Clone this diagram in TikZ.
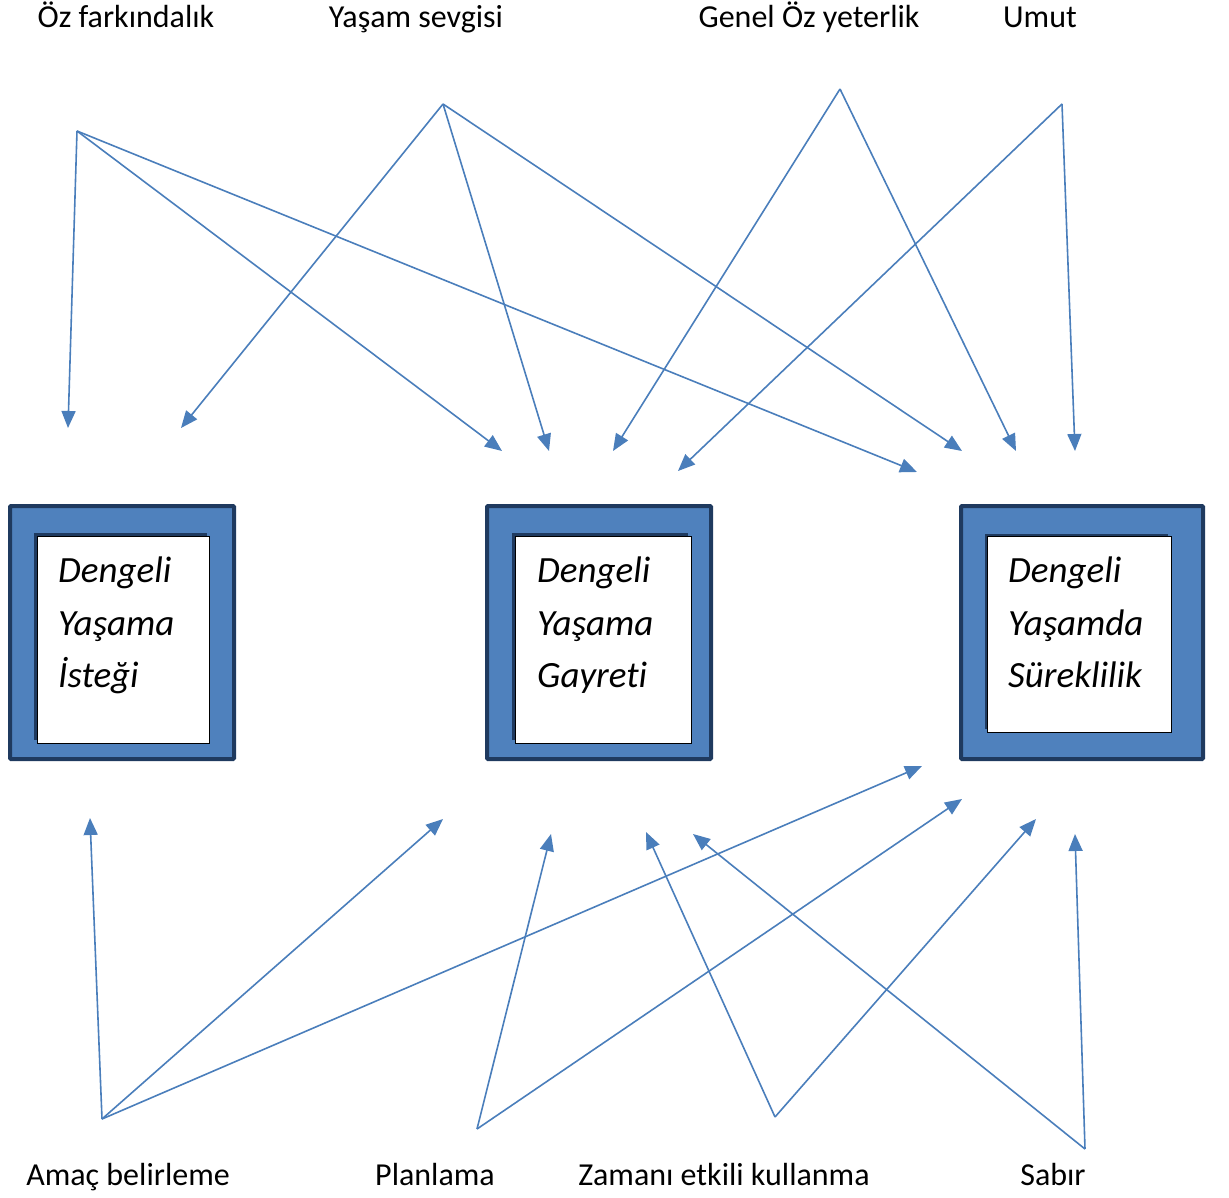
\documentclass[tikz,border=0pt]{standalone}
\usepackage{fontspec}
\setmainfont{Carlito}[Ligatures=NoCommon]
\usetikzlibrary{arrows.meta,positioning}
\definecolor{linkblue}{HTML}{4A7EBB}
\definecolor{boxblue}{HTML}{4F81BD}
\definecolor{boxnavy}{HTML}{1F3A5F}
\newcommand{\lblsize}{\fontsize{32}{38}\selectfont}
\newcommand{\boxsize}{\fontsize{37}{52.5}\selectfont}

\begin{document}
\begin{tikzpicture}[x=1pt,y=-1pt,
    lbl/.style={font=\lblsize, inner sep=0pt, anchor=base},
    link/.style={draw=linkblue, line width=1.6pt, -{Triangle[length=17pt,width=14pt]}},
    outerbox/.style={draw=boxnavy, fill=boxblue, line width=4pt, rounded corners=1pt},
    innerbox/.style={draw=black, fill=white, line width=0.8pt},
    boxtext/.style={font=\boxsize\itshape, inner sep=0pt, anchor=north west, align=left}]
    %\draw[help lines] (0,0) grid[step=100] (1229,1198);
    \useasboundingbox (0,0) rectangle (1229,1198);

    % labels
    \node[lbl] (selfaware) at (126,28) {Öz farkındalık};
    \node[lbl] (lovelife) at (416,28) {Yaşam sevgisi};
    \node[lbl] (efficacy) at (809,28) {Genel Öz yeterlik};
    \node[lbl] (hope) at (1040,28) {Umut};
    \node[lbl] (goal) at (128,1185) {Amaç belirleme};
    \node[lbl] (plan) at (435,1185) {Planlama};
    \node[lbl] (timeuse) at (724,1185) {Zamanı etkili kullanma};
    \node[lbl] (patience) at (1053,1185) {Sabır};

    % boxes
    \draw[outerbox] (10,506) rectangle (234,759);
    \fill[boxnavy] (34,533) rectangle (207,740);
    \draw[innerbox] (37,536) rectangle (209,743);
    \node[boxtext] (wish) at (58,557) {Dengeli\\Yaşama\\İsteği};

    \draw[outerbox] (487,506) rectangle (711,759);
    \fill[boxnavy] (512,533) rectangle (688,740);
    \draw[innerbox] (515,536) rectangle (691,743);
    \node[boxtext] (effort) at (537,557) {Dengeli\\Yaşama\\Gayreti};

    \draw[outerbox] (961,506) rectangle (1203,759);
    \fill[boxnavy] (985,534) rectangle (1168,729);
    \draw[innerbox] (987,536) rectangle (1171,732);
    \node[boxtext] (cont) at (1008,557) {Dengeli\\Yaşamda\\Süreklilik};

    % arrow ends
    \coordinate (sa) at (77,131);
    \coordinate (ls) at (443,104);
    \coordinate (ef) at (840,89);
    \coordinate (ho) at (1062,104);
    \coordinate (go) at (102,1119);
    \coordinate (pl) at (477,1129);
    \coordinate (tu) at (775,1117);
    \coordinate (pa) at (1085,1149);

    \coordinate (t1) at (68,428);
    \coordinate (t2) at (181,428);
    \coordinate (t3) at (502,451);
    \coordinate (t4) at (549,451);
    \coordinate (t5) at (613,451);
    \coordinate (t6) at (678,471);
    \coordinate (t7) at (917,472);
    \coordinate (t8) at (962,451);
    \coordinate (t9) at (1016,451);
    \coordinate (t10) at (1075,451);

    \coordinate (b1) at (90,818);
    \coordinate (b2) at (443,819);
    \coordinate (b3) at (551,834);
    \coordinate (b4) at (646,832);
    \coordinate (b5) at (693,834);
    \coordinate (b6) at (922,766);
    \coordinate (b7) at (962,799);
    \coordinate (b8) at (1036,819);
    \coordinate (b9) at (1075,834);

    % top arrows
    \draw[link] (sa) -- (t1);
    \draw[link] (sa) -- (t3);
    \draw[link] (sa) -- (t7);
    \draw[link] (ls) -- (t2);
    \draw[link] (ls) -- (t4);
    \draw[link] (ls) -- (t8);
    \draw[link] (ef) -- (t5);
    \draw[link] (ef) -- (t9);
    \draw[link] (ho) -- (t6);
    \draw[link] (ho) -- (t10);

    % bottom arrows
    \draw[link] (go) -- (b1);
    \draw[link] (go) -- (b2);
    \draw[link] (go) -- (b6);
    \draw[link] (pl) -- (b3);
    \draw[link] (pl) -- (b7);
    \draw[link] (tu) -- (b4);
    \draw[link] (tu) -- (b8);
    \draw[link] (pa) -- (b5);
    \draw[link] (pa) -- (b9);
\end{tikzpicture}
\end{document}
